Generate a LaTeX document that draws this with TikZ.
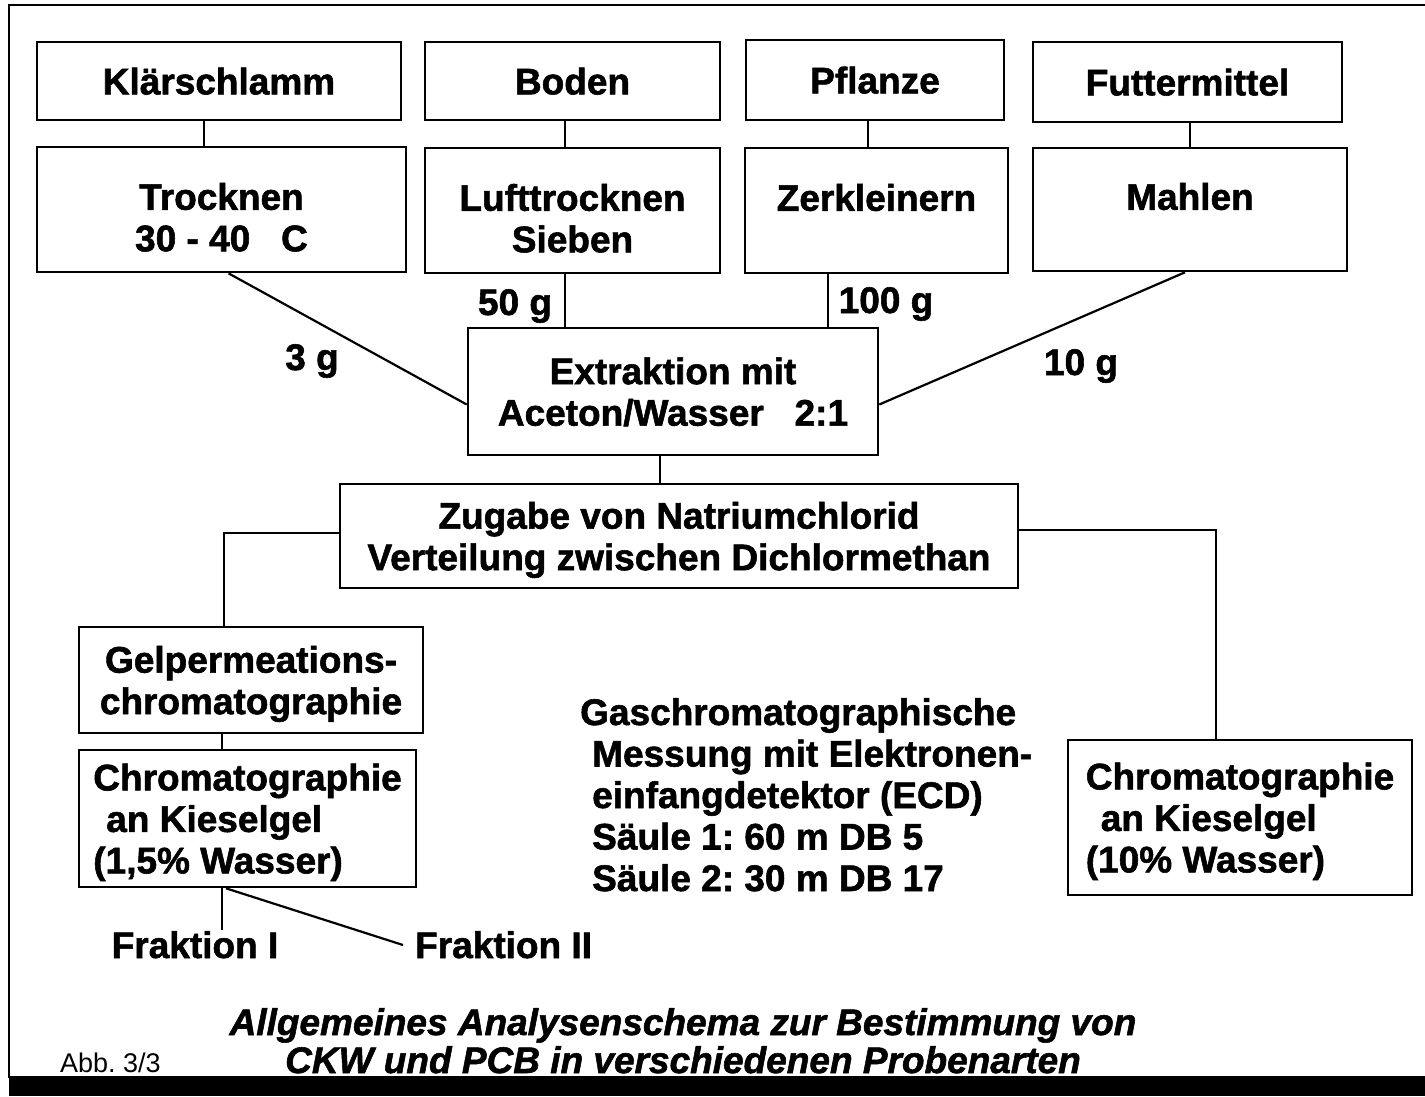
\documentclass[tikz,border=0pt]{standalone}
\usepackage{fontspec}
\setmainfont{Liberation Sans}[BoldFeatures={FakeBold=1.5}, BoldItalicFeatures={FakeBold=1.5}]
\usetikzlibrary{positioning}
\newcommand\highline{\rule{0pt}{42pt}}

\begin{document}
\frenchspacing
\begin{tikzpicture}[x=1pt, y=-1pt,
    font=\fontsize{37}{41.5}\selectfont\bfseries,
    box/.style={draw, line width=2.6pt, inner sep=0pt, align=center, text depth=0pt},
    wire/.style={line width=2.2pt},
    lbl/.style={anchor=base, inner sep=0pt}]
  \useasboundingbox (0,0) rectangle (1425,1096);
  \draw[line width=2pt] (9,1078) -- (9,5) -- (1425,5);
  \fill (9,1076) rectangle (1425,1096);

  \node[box, minimum width=364pt, minimum height=78pt]  (klaer)   at (219,81)     {Klärschlamm};
  \node[box, minimum width=295pt, minimum height=78pt]  (boden)   at (572.5,81)   {Boden};
  \node[box, minimum width=258pt, minimum height=80pt]  (pflanze) at (875,80)     {Pflanze};
  \node[box, minimum width=309pt, minimum height=80pt]  (futter)  at (1187.5,82)  {Futtermittel};
  \node[box, minimum width=369pt, minimum height=125pt] (trock)   at (221.5,209.5) {\highline Trocknen\\30 - 40 \ \ C};
  \node[box, minimum width=295pt, minimum height=125pt] (luft)    at (572.5,210.5) {\highline Lufttrocknen\\Sieben};
  \node[box, minimum width=263pt, minimum height=125pt] (zerkl)   at (876.5,210.5) {\highline Zerkleinern\\\mbox{}};
  \node[box, minimum width=314pt, minimum height=123pt] (mahlen)  at (1190,209.5)  {\highline Mahlen\\\mbox{}};
  \node[box, minimum width=410pt, minimum height=127pt] (extr)    at (673,391.5)   {Extraktion mit\\Aceton/Wasser \ \ 2:1};
  \node[box, minimum width=678pt, minimum height=104pt] (zugabe)  at (679,536)     {Zugabe von Natriumchlorid\\Verteilung zwischen Dichlormethan};
  \node[box, minimum width=344pt, minimum height=106pt] (gel)     at (251,680)     {Gelpermeations-\\chromatographie};
  \node[box, minimum width=337pt, minimum height=137pt, align=left] (chroml) at (247.5,818.5)
    {Chromatographie\\\hspace{13pt}an Kieselgel\\(1,5\% Wasser)};
  \node[box, minimum width=344pt, minimum height=155pt, align=left] (chromr) at (1240,817.5)
    {Chromatographie\\\hspace{15pt}an Kieselgel\\(10\% Wasser)};

  \node[lbl] (g3)   at (312,370)  {3 g};
  \node[lbl] (g50)  at (515,315)  {50 g};
  \node[lbl] (g100) at (886,313)  {100 g};
  \node[lbl] (g10)  at (1081,375) {10 g};

  \node[anchor=base west, inner sep=0pt, align=left] (gc) at (580,891)
    {Gaschromatographische\\\hspace{12pt}Messung mit Elektronen-\\\hspace{12pt}einfangdetektor (ECD)\\\hspace{12pt}Säule 1: 60 m DB 5\\\hspace{12pt}Säule 2: 30 m DB 17};

  \node[lbl] (frak1) at (195,958) {Fraktion I};
  \node[lbl, anchor=base west] (frak2) at (415,958) {Fraktion II};

  \node[lbl, align=center, font=\fontsize{37}{38}\selectfont\bfseries\itshape] (titel) at (683,1073)
    {Allgemeines Analysenschema zur Bestimmung von\\CKW und PCB in verschiedenen Probenarten};
  \node[lbl, anchor=base west, font=\fontsize{27}{30}\selectfont] (abb) at (60,1072) {Abb. 3/3};

  \draw[wire] (204,0 |- klaer.south) -- (204,0 |- trock.north);
  \draw[wire] (565,0 |- boden.south) -- (565,0 |- luft.north);
  \draw[wire] (868,0 |- pflanze.south) -- (868,0 |- zerkl.north);
  \draw[wire] (1190,0 |- futter.south) -- (1190,0 |- mahlen.north);

  \draw[wire] ([xshift=7pt]trock.south) -- ([yshift=-13pt]extr.west);
  \draw[wire] (565,0 |- luft.south) -- (565,0 |- extr.north);
  \draw[wire] (828,0 |- zerkl.south) -- (828,0 |- extr.north);
  \draw[wire] ([xshift=-5pt]mahlen.south) -- ([yshift=-13pt]extr.east);

  \draw[wire] (660,0 |- extr.south) -- (660,0 |- zugabe.north);
  \draw[wire] ([yshift=3pt]zugabe.west) -| (224,0 |- gel.north);
  \draw[wire] ([yshift=6pt]zugabe.east) -| (1216,0 |- chromr.north);
  \draw[wire] (222,0 |- gel.south) -- (222,0 |- chroml.north);

  \draw[wire] (222,0 |- chroml.south) -- (222,930);
  \draw[wire] (226,0 |- chroml.south) -- ([xshift=-12pt,yshift=13pt]frak2.base west);
\end{tikzpicture}
\end{document}
